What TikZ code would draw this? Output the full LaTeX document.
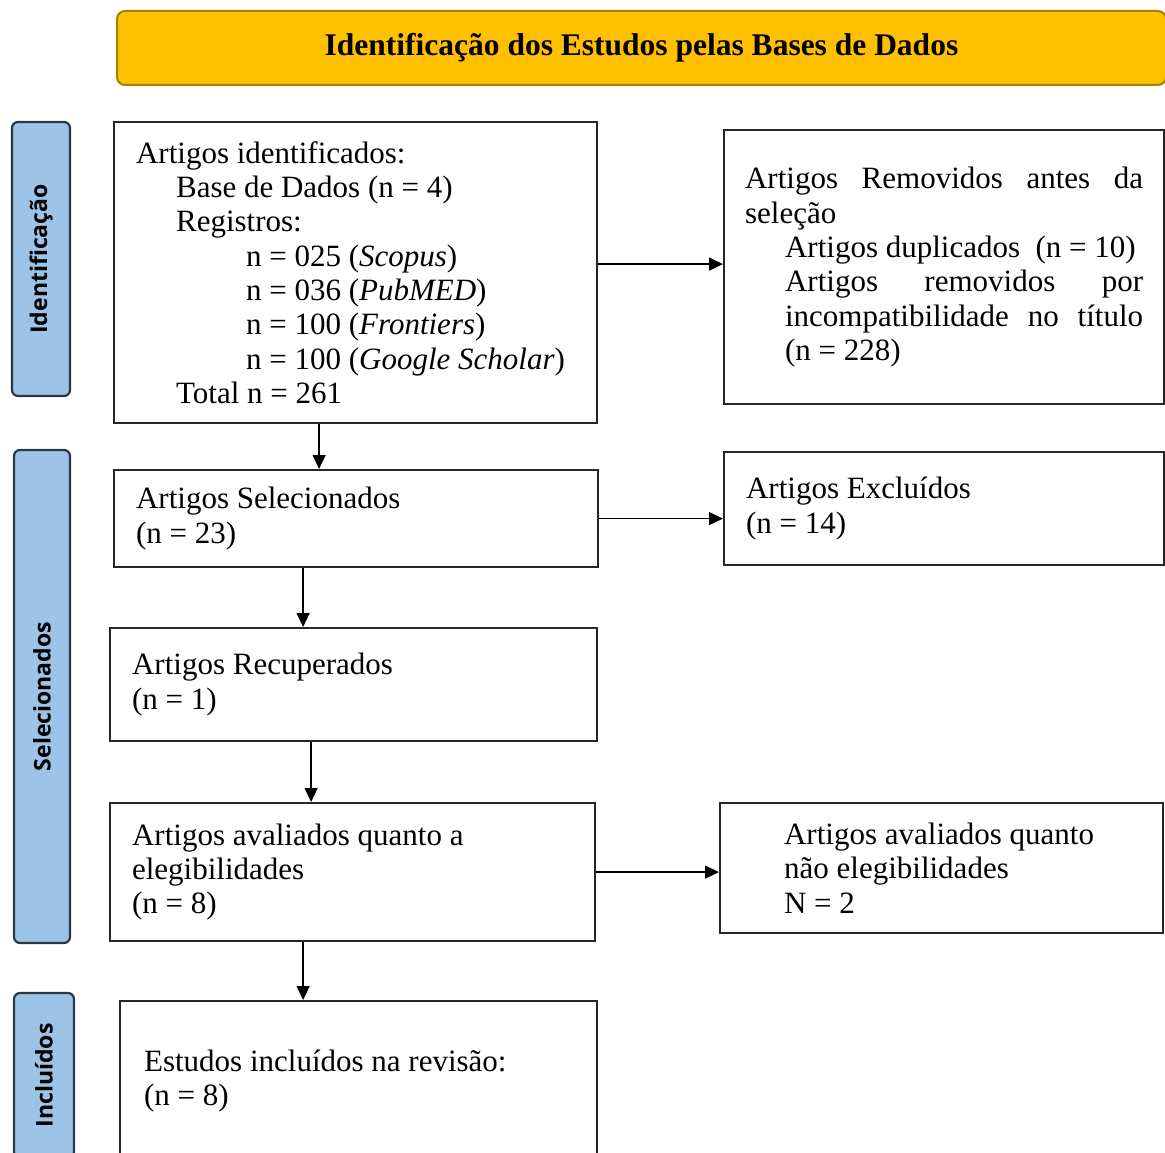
\documentclass[tikz,border=0pt]{standalone}
\usepackage{fontspec}
\setmainfont{Liberation Serif}
\newfontfamily\sidefont{Open Sans}
\usepackage{tikz}
\usetikzlibrary{arrows.meta,calc}
\definecolor{ink}{HTML}{262626}
\definecolor{gold}{HTML}{FFC000}
\definecolor{golddark}{HTML}{A88000}
\definecolor{sky}{HTML}{9DC3E6}
\definecolor{slate}{HTML}{2B3645}

\begin{document}
\begin{tikzpicture}[
    x=1pt, y=-1pt,
    flowbox/.style={draw=ink, line width=2.2pt, anchor=north west,
      inner xsep=22pt, inner ysep=0pt, align=left, text=black,
      font=\fontsize{31}{34.3}\selectfont,
      execute at begin node={\spaceskip=0pt\xspaceskip=0pt}},
    sidebar/.style={draw=slate, fill=sky, line width=2.2pt,
      rounded corners=6pt, rotate=90, inner sep=0pt, text=black,
      font=\sidefont\bfseries\fontsize{23}{26}\selectfont},
    flow/.style={-{Triangle[length=14pt,width=13pt]}, line width=1.4pt}
  ]
  \useasboundingbox (0,0) rectangle (1165,1153);

  % header
  \node[draw=golddark, fill=gold, line width=2pt, rounded corners=8pt,
    anchor=north west, minimum width=1049pt, minimum height=74pt,
    font=\bfseries\fontsize{31.5}{34}\selectfont] (title) at (116,10)
    {Identificação dos Estudos pelas Bases de Dados};

  % phases
  \node[sidebar, minimum width=274pt, minimum height=58pt] (phaseid) at (41,259) {Identificação};
  \node[sidebar, minimum width=493pt, minimum height=56pt] (phasesel) at (42,696.5) {Selecionados};
  \node[sidebar, minimum width=165pt, minimum height=60pt] (phaseinc) at (44,1075.5) {Incluídos};

  % left column
  \node[flowbox, text width=439pt, minimum height=301pt] (found) at (113,121) {%
    Artigos identificados:\\
    \hspace*{40pt}Base de Dados (n = 4)\\
    \hspace*{40pt}Registros:\\
    \hspace*{110pt}n = 025 (\textit{Scopus})\\
    \hspace*{110pt}n = 036 (\textit{PubMED})\\
    \hspace*{110pt}n = 100 (\textit{Frontiers})\\
    \hspace*{110pt}n = 100 (\textit{Google Scholar})\\
    \hspace*{40pt}Total n = 261};
  \node[flowbox, text width=440pt, minimum height=97pt] (chosen) at (113,469)
    {Artigos Selecionados\\(n = 23)};
  \node[flowbox, text width=443pt, minimum height=113pt] (recovered) at (109,627)
    {Artigos Recuperados\\(n = 1)};
  \node[flowbox, text width=441pt, minimum height=138pt] (assessed) at (109,802)
    {Artigos avaliados quanto a\\elegibilidades\\(n = 8)};
  \node[flowbox, inner xsep=24pt, text width=429pt, minimum height=160pt] (included) at (119,1000)
    {Estudos incluídos na revisão:\\(n = 8)};

  % right column
  \node[flowbox, inner xsep=21pt, text width=398pt, minimum height=274pt] (removed) at (723,129) {%
    \makebox[398pt][s]{Artigos Removidos antes da}\\
    seleção\\
    \hspace*{40pt}Artigos duplicados\ \ (n = 10)\\
    \hspace*{40pt}\makebox[358pt][s]{Artigos removidos por}\\
    \hspace*{40pt}\makebox[358pt][s]{incompatibilidade no título}\\
    \hspace*{40pt}(n = 228)};
  \node[flowbox, text width=396pt, minimum height=113pt] (excluded) at (723,451)
    {Artigos Excluídos\\(n = 14)};
  \node[flowbox, text width=399pt, minimum height=130pt] (ineligible) at (719,802) {%
    \hspace*{42pt}Artigos avaliados quanto\\
    \hspace*{42pt}não elegibilidades\\
    \hspace*{42pt}N = 2};

  % connectors
  \draw[flow] ([xshift=-36.5pt]found.south) -- ([xshift=-36.5pt]found.south |- chosen.north);
  \draw[flow] ([yshift=8.5pt]found.east) -- ([yshift=8.5pt]found.east -| removed.west);
  \draw[flow] (chosen.east) -- (chosen.east -| excluded.west);
  \draw[flow] ([xshift=-53pt]chosen.south) -- ([xshift=-53pt]chosen.south |- recovered.north);
  \draw[flow] ([xshift=-42.5pt]recovered.south) -- ([xshift=-42.5pt]recovered.south |- assessed.north);
  \draw[flow] (assessed.east) -- (assessed.east -| ineligible.west);
  \draw[flow] ([xshift=-49.5pt]assessed.south) -- ([xshift=-49.5pt]assessed.south |- included.north);
\end{tikzpicture}
\end{document}
